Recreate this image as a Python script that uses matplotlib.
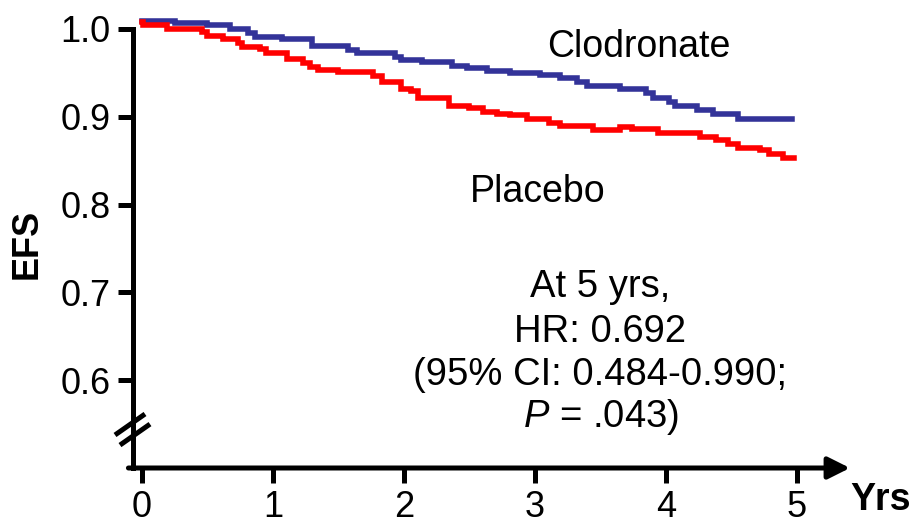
import matplotlib
matplotlib.use("Agg")
import matplotlib.pyplot as plt

plt.rcParams['font.family'] = ['Liberation Sans', 'DejaVu Sans']
plt.rcParams['mathtext.fontset'] = 'custom'
plt.rcParams['mathtext.it'] = 'Liberation Sans:italic'
plt.rcParams['mathtext.rm'] = 'Liberation Sans'

# ---- data ----
clod_t = [0, 0.25, 0.50, 0.67, 0.81, 0.86, 1.07, 1.30, 1.57, 1.64, 1.93, 1.98, 2.14, 2.37, 2.48,
          2.63, 2.81, 3.04, 3.19, 3.32, 3.40, 3.65, 3.85, 3.90, 4.02, 4.07, 4.24, 4.36, 4.55, 4.96]
clod_efs = [1.009, 1.007, 1.004, 1.000, 0.995, 0.991, 0.989, 0.981, 0.976, 0.973, 0.968, 0.965, 0.962,
            0.958, 0.955, 0.952, 0.950, 0.948, 0.944, 0.940, 0.935, 0.932, 0.927, 0.921, 0.917, 0.912,
            0.908, 0.903, 0.897, 0.897]

plac_t = [0, 0.01, 0.19, 0.46, 0.50, 0.62, 0.73, 0.76, 0.90, 0.95, 1.11, 1.23, 1.28, 1.34, 1.50,
          1.76, 1.83, 1.98, 2.05, 2.11, 2.34, 2.50, 2.60, 2.71, 2.81, 2.94, 3.11, 3.19, 3.44, 3.65,
          3.74, 3.94, 4.26, 4.38, 4.47, 4.55, 4.72, 4.79, 4.89, 4.98]
plac_efs = [1.008, 1.004, 1.000, 0.996, 0.992, 0.989, 0.984, 0.980, 0.977, 0.973, 0.966, 0.961, 0.957,
            0.953, 0.951, 0.946, 0.940, 0.932, 0.929, 0.921, 0.912, 0.910, 0.906, 0.903, 0.902, 0.898,
            0.893, 0.890, 0.885, 0.888, 0.886, 0.881, 0.877, 0.873, 0.869, 0.865, 0.862, 0.858,
            0.853, 0.853]

x_ticks = [0, 1, 2, 3, 4, 5]
y_ticks = [0.6, 0.7, 0.8, 0.9, 1.0]
y_ticklabels = ['0.6', '0.7', '0.8', '0.9', '1.0']
stats_lines = ['At 5 yrs,', 'HR: 0.692', '(95% CI: 0.484-0.990;', r'$P$ = .043)']

# ---- figure ----
W, H = 912, 525
fig = plt.figure(figsize=(W / 100, H / 100), dpi=100)
XMIN, XMAX = -0.0687, 5.405
YMIN, YMAX = 0.5, 1.02
ax = fig.add_axes([133 / W, 1 - 468 / H, (850 - 133) / W, (468 - 11.4) / H])
ax.set_xlim(XMIN, XMAX)
ax.set_ylim(YMIN, YMAX)

ax.step(clod_t, clod_efs, where='post', color='#333399', lw=4.0, solid_joinstyle='miter')
ax.step(plac_t, plac_efs, where='post', color='#ff0000', lw=4.0, solid_joinstyle='miter')

for s in ['top', 'right', 'bottom']:
    ax.spines[s].set_visible(False)
ax.spines['left'].set_linewidth(3.6)
ax.spines['left'].set_bounds(YMIN, 1.0)
ax.spines['left'].set_capstyle('projecting')

# x axis with arrow
ax.annotate('', xy=(XMAX, YMIN), xytext=(XMIN - 0.035, YMIN), xycoords='data',
            arrowprops=dict(arrowstyle='-|>,head_length=0.6,head_width=0.3', lw=3.6,
                            color='black', shrinkA=0, shrinkB=0, mutation_scale=22),
            annotation_clip=False)

ax.set_xticks(x_ticks)
ax.set_xticklabels([str(v) for v in x_ticks])
ax.set_yticks(y_ticks)
ax.set_yticklabels(y_ticklabels)
ax.tick_params(axis='both', direction='out', width=3.6, length=11, labelsize=26, colors='black')
ax.tick_params(axis='y', pad=5)
ax.tick_params(axis='x', pad=5)

# axis break marks
for dx, dy in [(0.0, 0.0), (0.038, -0.0115)]:
    ax.plot([-0.206 + dx, 0.023 + dx], [0.5376 + dy, 0.5615 + dy], color='black', lw=3.6,
            clip_on=False, solid_capstyle='butt')

# labels
ax.text(-0.875, 0.755, 'EFS', rotation=90, ha='center', va='center', fontsize=26,
        fontweight='bold', clip_on=False)
ax.text(5.64, 0.452, 'Yrs', ha='center', va='baseline', fontsize=27, fontweight='bold',
        clip_on=False)

ax.text(3.79, 0.968, 'Clodronate', ha='center', va='baseline', fontsize=27)
ax.text(3.02, 0.803, 'Placebo', ha='center', va='baseline', fontsize=27)

for line, yb in zip(stats_lines, [0.695, 0.644, 0.595, 0.547]):
    ax.text(3.50, yb, line, ha='center', va='baseline', fontsize=27.5)

fig.savefig('out.png', dpi=100)
